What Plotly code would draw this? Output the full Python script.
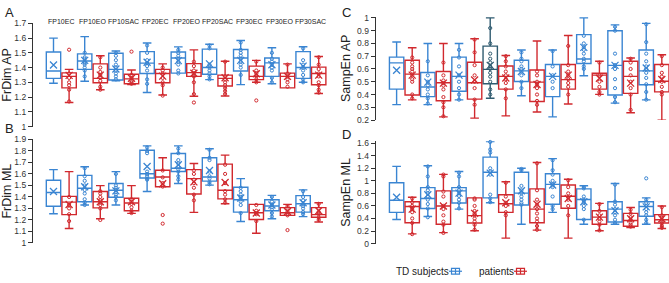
import plotly.graph_objects as go

CONDITIONS = ["FP10EC", "FP10EO", "FP10SAC", "FP20EC", "FP20EO", "FP20SAC", "FP30EC", "FP30EO", "FP30SAC"]
GROUPS = ["TD subjects", "patients"]

# each tuple: (lower whisker, q1, median, q3, upper whisker, mean)
FRDIM_AP_TD = [(1.294, 1.327, 1.377, 1.506, 1.600, 1.417), (1.307, 1.388, 1.445, 1.493, 1.610, 1.449),
               (1.310, 1.316, 1.388, 1.497, 1.512, 1.390), (1.231, 1.360, 1.430, 1.508, 1.567, 1.436),
               (1.362, 1.362, 1.465, 1.506, 1.540, 1.447), (1.318, 1.355, 1.400, 1.525, 1.558, 1.425),
               (1.284, 1.377, 1.465, 1.523, 1.584, 1.449), (1.290, 1.340, 1.432, 1.465, 1.534, 1.419),
               (1.300, 1.327, 1.400, 1.508, 1.541, 1.410)]
FRDIM_AP_PT = [(1.163, 1.262, 1.340, 1.364, 1.388, 1.347), (1.250, 1.297, 1.327, 1.425, 1.480, 1.349),
               (1.284, 1.290, 1.323, 1.355, 1.384, 1.327), (1.214, 1.297, 1.360, 1.388, 1.425, 1.342),
               (1.205, 1.340, 1.366, 1.427, 1.520, 1.362), (1.207, 1.275, 1.327, 1.349, 1.443, 1.331),
               (1.300, 1.318, 1.340, 1.410, 1.449, 1.358), (1.262, 1.262, 1.340, 1.362, 1.425, 1.340),
               (1.224, 1.283, 1.360, 1.403, 1.475, 1.349)]
FRDIM_AP_TD_PTS = [[], [1.50, 1.47, 1.46, 1.44, 1.43, 1.42, 1.40, 1.38, 1.34],
                   [1.50, 1.48, 1.45, 1.42, 1.40, 1.38, 1.36, 1.34, 1.32],
                   [1.55, 1.50, 1.45, 1.43, 1.41, 1.38, 1.32, 1.29],
                   [1.52, 1.50, 1.48, 1.46, 1.44, 1.42, 1.38, 1.36],
                   [1.55, 1.53, 1.42, 1.40, 1.38, 1.36, 1.34, 1.32],
                   [1.57, 1.52, 1.50, 1.48, 1.46, 1.44, 1.42, 1.40, 1.35],
                   [1.50, 1.46, 1.44, 1.42, 1.40, 1.38, 1.33, 1.30],
                   [1.53, 1.45, 1.42, 1.40, 1.38, 1.35, 1.32, 1.30]]
FRDIM_AP_PT_PTS = [[1.521, 1.36, 1.33, 1.30, 1.28, 1.25, 1.17],
                   [1.47, 1.40, 1.37, 1.35, 1.33, 1.31, 1.27, 1.25],
                   [1.508, 1.35, 1.33, 1.31, 1.30, 1.29],
                   [1.40, 1.38, 1.36, 1.33, 1.30, 1.28, 1.21],
                   [1.44, 1.41, 1.38, 1.36, 1.34, 1.30, 1.22, 1.163],
                   [1.44, 1.34, 1.32, 1.30, 1.28, 1.26, 1.24, 1.22],
                   [1.44, 1.38, 1.36, 1.34, 1.32, 1.30, 1.177],
                   [1.42, 1.36, 1.34, 1.32, 1.30, 1.27],
                   [1.47, 1.42, 1.39, 1.36, 1.34, 1.30, 1.28, 1.25, 1.23]]

FRDIM_ML_TD = [(1.254, 1.319, 1.439, 1.545, 1.637, 1.447), (1.330, 1.358, 1.475, 1.587, 1.662, 1.489),
               (1.330, 1.397, 1.458, 1.517, 1.620, 1.453), (1.447, 1.565, 1.601, 1.805, 1.844, 1.665),
               (1.517, 1.621, 1.649, 1.777, 1.844, 1.679), (1.503, 1.537, 1.573, 1.741, 1.819, 1.629),
               (1.187, 1.268, 1.375, 1.484, 1.559, 1.391), (1.210, 1.280, 1.321, 1.375, 1.414, 1.330),
               (1.229, 1.268, 1.341, 1.411, 1.461, 1.349)]
FRDIM_ML_PT = [(1.126, 1.246, 1.355, 1.405, 1.620, 1.335), (1.210, 1.305, 1.358, 1.447, 1.498, 1.358),
               (1.257, 1.280, 1.347, 1.389, 1.498, 1.358), (1.489, 1.489, 1.573, 1.632, 1.741, 1.514),
               (1.266, 1.425, 1.559, 1.637, 1.690, 1.531), (1.341, 1.383, 1.458, 1.685, 1.763, 1.525),
               (1.084, 1.204, 1.263, 1.335, 1.335, 1.260), (1.240, 1.240, 1.263, 1.307, 1.335, 1.274),
               (1.182, 1.224, 1.246, 1.307, 1.349, 1.280)]
FRDIM_ML_TD_PTS = [[], [1.65, 1.58, 1.54, 1.50, 1.46, 1.43, 1.38, 1.35, 1.33],
                   [1.60, 1.50, 1.48, 1.46, 1.44, 1.42, 1.40, 1.37],
                   [1.83, 1.80, 1.78, 1.62, 1.60, 1.58, 1.56, 1.55],
                   [1.82, 1.78, 1.72, 1.69, 1.66, 1.64, 1.62, 1.58, 1.55],
                   [1.81, 1.74, 1.72, 1.62, 1.58, 1.56, 1.53, 1.51],
                   [1.48, 1.45, 1.42, 1.40, 1.38, 1.36, 1.33, 1.26],
                   [1.40, 1.36, 1.33, 1.31, 1.29, 1.26, 1.23],
                   [1.45, 1.40, 1.37, 1.34, 1.32, 1.30, 1.27, 1.25]]
FRDIM_ML_PT_PTS = [[1.40, 1.33, 1.30, 1.25, 1.19],
                   [1.45, 1.43, 1.40, 1.37, 1.35, 1.33, 1.30, 1.20],
                   [1.38, 1.36, 1.34, 1.31, 1.28, 1.26],
                   [1.63, 1.57, 1.52, 1.49, 1.243, 1.168],
                   [1.63, 1.60, 1.55, 1.52, 1.48, 1.42, 1.37],
                   [1.68, 1.60, 1.52, 1.45, 1.42, 1.38, 1.35],
                   [1.33, 1.28, 1.26, 1.25, 1.19],
                   [1.32, 1.30, 1.27, 1.25, 1.24, 1.112],
                   [1.34, 1.30, 1.27, 1.25, 1.22, 1.20]]

SAMPEN_AP_TD = [(0.321, 0.442, 0.648, 0.693, 0.811, 0.590), (0.321, 0.384, 0.459, 0.572, 0.799, 0.497),
                (0.358, 0.426, 0.542, 0.693, 0.799, 0.552), (0.371, 0.484, 0.597, 0.779, 1.000, 0.628),
                (0.391, 0.502, 0.585, 0.668, 0.748, 0.580), (0.225, 0.384, 0.542, 0.635, 0.748, 0.542),
                (0.547, 0.643, 0.678, 0.869, 1.000, 0.769), (0.333, 0.396, 0.628, 0.899, 0.945, 0.628),
                (0.358, 0.477, 0.585, 0.748, 0.957, 0.608)]
SAMPEN_AP_PT = [(0.358, 0.396, 0.560, 0.668, 0.766, 0.552), (0.225, 0.351, 0.492, 0.580, 0.799, 0.489),
                (0.215, 0.364, 0.492, 0.653, 0.836, 0.514), (0.233, 0.442, 0.542, 0.623, 0.706, 0.530),
                (0.263, 0.346, 0.497, 0.592, 0.819, 0.479), (0.326, 0.442, 0.517, 0.635, 0.862, 0.552),
                (0.401, 0.442, 0.552, 0.567, 0.660, 0.527), (0.258, 0.409, 0.542, 0.660, 0.686, 0.489),
                (0.200, 0.421, 0.504, 0.635, 0.711, 0.517)]
SAMPEN_AP_TD_PTS = [[], [0.66, 0.55, 0.50, 0.47, 0.44, 0.40, 0.37, 0.33],
                    [0.75, 0.69, 0.62, 0.55, 0.50, 0.45, 0.40, 0.36],
                    [0.92, 0.80, 0.72, 0.68, 0.65, 0.62, 0.60, 0.57, 0.54, 0.50, 0.44, 0.40],
                    [0.73, 0.68, 0.66, 0.62, 0.60, 0.58, 0.55, 0.50, 0.45],
                    [0.74, 0.62, 0.55, 0.50, 0.45],
                    [0.86, 0.80, 0.77, 0.75, 0.72, 0.68, 0.66, 0.62, 0.60],
                    [0.93, 0.90, 0.72, 0.63, 0.60, 0.52, 0.45, 0.38, 0.34],
                    [0.95, 0.81, 0.72, 0.66, 0.62, 0.60, 0.57, 0.53, 0.48, 0.42, 0.36]]
SAMPEN_AP_PT_PTS = [[0.69, 0.65, 0.62, 0.60, 0.58, 0.55, 0.52, 0.50, 0.40, 0.37],
                    [0.65, 0.55, 0.51, 0.49, 0.47, 0.44, 0.38, 0.34, 0.30, 0.23],
                    [0.83, 0.73, 0.63, 0.55, 0.50, 0.45, 0.36, 0.32],
                    [0.70, 0.66, 0.62, 0.58, 0.55, 0.52, 0.49, 0.44, 0.37],
                    [0.58, 0.55, 0.50, 0.48, 0.45, 0.40, 0.35, 0.32],
                    [0.78, 0.63, 0.58, 0.55, 0.52, 0.49, 0.46, 0.40],
                    [0.65, 0.55, 0.50, 0.46, 0.42, 0.40],
                    [0.68, 0.65, 0.60, 0.55, 0.50, 0.45, 0.40, 0.28],
                    [0.70, 0.63, 0.57, 0.54, 0.50, 0.46, 0.42, 0.40]]

SAMPEN_ML_TD = [(0.385, 0.497, 0.692, 0.969, 1.231, 0.738), (0.431, 0.559, 0.718, 0.892, 1.241, 0.779),
                (0.549, 0.646, 0.841, 0.892, 1.149, 0.805), (0.651, 0.728, 1.138, 1.379, 1.626, 1.123),
                (0.308, 0.615, 0.805, 1.138, 1.200, 0.841), (0.497, 0.626, 0.944, 1.113, 1.354, 0.933),
                (0.308, 0.385, 0.703, 0.872, 0.923, 0.667), (0.308, 0.344, 0.549, 0.667, 0.959, 0.523),
                (0.308, 0.436, 0.590, 0.667, 0.728, 0.585)]
SAMPEN_ML_PT = [(0.154, 0.333, 0.590, 0.667, 0.738, 0.549), (0.174, 0.308, 0.600, 0.841, 1.103, 0.600),
                (0.205, 0.328, 0.446, 0.728, 0.728, 0.482), (0.087, 0.497, 0.636, 0.779, 0.985, 0.651),
                (0.215, 0.333, 0.549, 0.872, 1.292, 0.626), (0.087, 0.564, 0.754, 0.933, 1.026, 0.718),
                (0.205, 0.308, 0.421, 0.523, 0.641, 0.421), (0.256, 0.277, 0.369, 0.482, 0.574, 0.395),
                (0.241, 0.328, 0.379, 0.462, 0.600, 0.395)]
SAMPEN_ML_TD_PTS = [[], [1.23, 1.07, 0.90, 0.85, 0.80, 0.75, 0.70, 0.63, 0.56, 0.42],
                    [1.13, 1.07, 0.90, 0.85, 0.80, 0.76, 0.70, 0.65, 0.56],
                    [1.62, 1.50, 1.45, 1.20, 1.15, 1.10, 0.78, 0.72, 0.66],
                    [1.19, 1.17, 0.92, 0.85, 0.80, 0.75, 0.70, 0.65, 0.62],
                    [1.33, 1.17, 1.10, 1.00, 0.95, 0.93, 0.90, 0.75, 0.60, 0.55],
                    [0.90, 0.88, 0.75, 0.70, 0.66, 0.60, 0.55, 0.38],
                    [0.94, 0.67, 0.62, 0.55, 0.50, 0.45, 0.38, 0.33],
                    [1.04, 0.70, 0.65, 0.60, 0.55, 0.50, 0.45, 0.38, 0.33]]
SAMPEN_ML_PT_PTS = [[0.72, 0.66, 0.60, 0.55, 0.50, 0.40, 0.33, 0.15],
                    [1.10, 1.07, 0.83, 0.75, 0.60, 0.55, 0.45, 0.35, 0.30, 0.17],
                    [0.72, 0.70, 0.60, 0.52, 0.48, 0.45, 0.40, 0.35, 0.30, 0.22],
                    [0.97, 0.75, 0.65, 0.60, 0.50, 0.45],
                    [1.28, 0.85, 0.70, 0.62, 0.55, 0.48, 0.40, 0.35, 0.28, 0.22],
                    [1.01, 0.90, 0.80, 0.74, 0.70, 0.60, 0.45],
                    [0.63, 0.52, 0.45, 0.40, 0.35, 0.30, 0.21],
                    [0.54, 0.48, 0.42, 0.38, 0.33, 0.30, 0.27],
                    [0.58, 0.45, 0.42, 0.38, 0.35, 0.32, 0.28, 0.25]]

PANELS = [
    ("A", "FrDim AP", FRDIM_AP_TD, FRDIM_AP_PT, FRDIM_AP_TD_PTS, FRDIM_AP_PT_PTS, [1, 1.7], 0.1),
    ("B", "FrDim ML", FRDIM_ML_TD, FRDIM_ML_PT, FRDIM_ML_TD_PTS, FRDIM_ML_PT_PTS, [1, 1.9], 0.1),
    ("C", "SampEn AP", SAMPEN_AP_TD, SAMPEN_AP_PT, SAMPEN_AP_TD_PTS, SAMPEN_AP_PT_PTS, [0.2, 1.01], 0.1),
    ("D", "SampEn ML", SAMPEN_ML_TD, SAMPEN_ML_PT, SAMPEN_ML_TD_PTS, SAMPEN_ML_PT_PTS, [0, 1.63], 0.2),
]

BLUE = "#3a85d2"
RED = "#d1292e"
DARK = "#2f5b70"
AXC = "#333333"
W, H = 669, 283

# panel geometry in pixels: (x left, x right, y top, y bottom)
GEOM = {
    "A": (33, 329, 19, 126),
    "B": (33, 329, 139.3, 246.7),
    "C": (375.7, 669, 12.0, 119.3),
    "D": (375.7, 669, 141.35, 247.3),
}
XRANGE = {"A": [-0.907, 8.58], "B": [-0.907, 8.58], "C": [-0.92, 8.48], "D": [-0.92, 8.48]}
LETTER_POS = {"A": (3, 8), "B": (3, 128), "C": (340, 8), "D": (340, 134)}

fig = go.Figure()
OFFS = [-0.25, 0.25]

for k, (letter, title, td, pt, td_pts, pt_pts, yr, dt) in enumerate(PANELS):
    xa = "x" if k == 0 else f"x{k+1}"
    ya = "y" if k == 0 else f"y{k+1}"
    for g, (stats, pts) in enumerate([(td, td_pts), (pt, pt_pts)]):
        base = BLUE if g == 0 else RED
        for i, (lo, q1, med, q3, hi, mean) in enumerate(stats):
            col = base
            if letter == "C" and g == 0 and i == 3:
                col = DARK
            pos = i + OFFS[g]
            fig.add_trace(go.Box(
                x=[pos], q1=[q1], median=[med], q3=[q3], lowerfence=[lo], upperfence=[hi],
                width=0.46, whiskerwidth=0.6, boxpoints=False,
                line=dict(color=col, width=1.4), fillcolor="rgba(255,255,255,0)",
                xaxis=xa, yaxis=ya, showlegend=False, hoverinfo="skip"))
            fig.add_trace(go.Scatter(
                x=[pos] * len(pts[i]), y=pts[i], mode="markers",
                marker=dict(symbol="circle-open", size=3.2, color=col, line=dict(width=1, color=col)),
                xaxis=xa, yaxis=ya, showlegend=False, hoverinfo="skip", cliponaxis=False))
            fig.add_trace(go.Scatter(
                x=[pos], y=[mean], mode="markers",
                marker=dict(symbol="x-thin-open", size=7, color=col, line=dict(width=1.3, color=col)),
                xaxis=xa, yaxis=ya, showlegend=False, hoverinfo="skip", cliponaxis=False))

    x0, x1, yt, yb = GEOM[letter]
    xkey = "xaxis" if k == 0 else f"xaxis{k+1}"
    ykey = "yaxis" if k == 0 else f"yaxis{k+1}"
    fig.update_layout(**{
        xkey: dict(domain=[x0 / W, x1 / W], range=XRANGE[letter], visible=False, anchor=ya),
        ykey: dict(domain=[1 - yb / H, 1 - yt / H], range=yr, dtick=dt, tick0=0, anchor=xa,
                   showline=True, linecolor=AXC, linewidth=1.2, ticks="outside", ticklen=4,
                   tickcolor=AXC, showgrid=False, zeroline=False,
                   tickfont=dict(size=8.5, color=AXC),
                   title=dict(text=title, font=dict(size=12.5, color="#222"), standoff=3)),
    })
    lx, lyy = LETTER_POS[letter]
    fig.add_annotation(text=letter, xref="paper", yref="paper",
                       x=lx / W, y=1 - lyy / H,
                       xanchor="left", yanchor="middle", showarrow=False,
                       font=dict(size=13, color="#222"))

# category labels above panel A
for i, c in enumerate(CONDITIONS):
    fig.add_annotation(text=c, xref="x", yref="paper", x=i, y=1 - 17 / H, showarrow=False,
                       xanchor="center", yanchor="middle", font=dict(size=7, color="#222"))

# legend drawn manually (text then glyph)
LEG = [(GROUPS[0], BLUE, 448), (GROUPS[1], RED, 513)]
ly = 1 - 276 / H
for name, col, xr in LEG:
    fig.add_annotation(text=name, xref="paper", yref="paper", x=xr / W, y=ly, showarrow=False,
                       xanchor="right", yanchor="middle", font=dict(size=10, color="#222"),
                       xshift=3)
    fig.add_shape(type="line", xref="paper", yref="paper", x0=(xr + 1) / W, x1=(xr + 14) / W,
                  y0=ly, y1=ly, line=dict(color=col, width=1.2))
    fig.add_shape(type="rect", xref="paper", yref="paper", x0=(xr + 3.5) / W, x1=(xr + 11.5) / W,
                  y0=ly - 3 / H, y1=ly + 3 / H, line=dict(color=col, width=1.2))
    fig.add_shape(type="line", xref="paper", yref="paper", x0=(xr + 7.5) / W, x1=(xr + 7.5) / W,
                  y0=ly - 3 / H, y1=ly + 3 / H, line=dict(color=col, width=1.2))

fig.update_layout(width=W, height=H, margin=dict(l=0, r=0, t=0, b=0),
                  paper_bgcolor="white", plot_bgcolor="white",
                  font=dict(family="Liberation Sans, Arial, sans-serif", color="#222"),
                  boxmode="overlay", showlegend=False)

fig.write_html("out.html", config={"displayModeBar": False},
               post_script="document.body.style.margin='0';")
